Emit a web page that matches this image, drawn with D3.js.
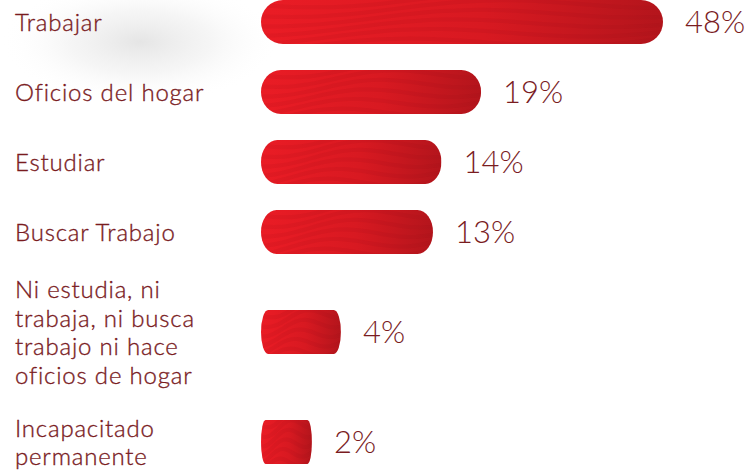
<!DOCTYPE html>
<html>
<head>
<meta charset="utf-8">
<script src="https://cdn.jsdelivr.net/npm/d3@7"></script>
<style>
  html, body { margin: 0; padding: 0; background: #fff; }
  svg { display: block; }
</style>
</head>
<body>
<div id="chart"></div>
<script>
var svgWidth = 756;
var svgHeight = 473;

// data
var categories = ["Trabajar", "Oficios del hogar", "Estudiar", "Buscar Trabajo",
  "Ni estudia, ni trabaja, ni busca trabajo ni hace oficios de hogar", "Incapacitado permanente"];
var labelLines = [
  ["Trabajar"],
  ["Oficios del hogar"],
  ["Estudiar"],
  ["Buscar Trabajo"],
  ["Ni estudia, ni", "trabaja, ni busca", "trabajo ni hace", "oficios de hogar"],
  ["Incapacitado", "permanente"]
];
var values = [48, 19, 14, 13, 4, 2];
var valueLabels = ["48%", "19%", "14%", "13%", "4%", "2%"];

var barX = 261;
var barH = 44;
var lineH = 28.5;
var textColor = "#7a1c1f";

var svg = d3.select("#chart")
  .append("svg")
    .attr("width", svgWidth)
    .attr("height", svgHeight);

var defs = svg.append("defs");

// soft grey glow behind first label
var glow = defs.append("radialGradient").attr("id", "glow");
glow.append("stop").attr("offset", "0%").attr("stop-color", "#e2e2e2").attr("stop-opacity", 0.9);
glow.append("stop").attr("offset", "50%").attr("stop-color", "#efefef").attr("stop-opacity", 0.6);
glow.append("stop").attr("offset", "100%").attr("stop-color", "#ffffff").attr("stop-opacity", 0);

var grad = defs.append("linearGradient").attr("id", "barGrad")
  .attr("x1", "0%").attr("x2", "100%").attr("y1", "0%").attr("y2", "0%");
grad.append("stop").attr("offset", "0%").attr("stop-color", "#ea1c25");
grad.append("stop").attr("offset", "55%").attr("stop-color", "#d81921");
grad.append("stop").attr("offset", "100%").attr("stop-color", "#b4151c");

svg.append("ellipse")
  .attr("cx", 140).attr("cy", 42)
  .attr("rx", 140).attr("ry", 62)
  .attr("fill", "url(#glow)");

// bar length scale (the infographic is not linear, a power scale fits it)
var xScale = d3.scalePow().exponent(0.65)
  .domain([0, 48])
  .range([0, 402]);

// rows take space according to how many lines their label has
var rowSize = labelLines.map(l => 50 + 20 * l.length);
var rowStart = d3.cumsum([0].concat(rowSize));
var yScale = d3.scaleLinear()
  .domain([0, d3.sum(rowSize)])
  .range([-13, -13 + d3.sum(rowSize)]);
var centerY = categories.map((c, i) => yScale(rowStart[i] + rowSize[i] / 2));

var rows = svg.selectAll("g.row")
  .data(categories)
  .enter()
  .append("g")
    .attr("class", "row")
    .attr("transform", (d, i) => `translate(0, ${centerY[i]})`);

// bars
rows.each(function(d, i) {
  var g = d3.select(this);
  var w = xScale(values[i]);
  var rx = Math.min(22, w * 0.09);
  defs.append("clipPath").attr("id", "clip" + i)
    .append("rect")
      .attr("x", barX).attr("y", -barH / 2)
      .attr("width", w).attr("height", barH)
      .attr("rx", rx).attr("ry", barH / 2);
  var bg = g.append("g").attr("clip-path", `url(#clip${i})`);
  bg.append("rect")
    .attr("x", barX).attr("y", -barH / 2)
    .attr("width", w).attr("height", barH)
    .attr("fill", "url(#barGrad)");
  // wavy texture
  var wave = d3.line().curve(d3.curveBasis);
  for (var k = 0; k < 7; k++) {
    var pts = d3.range(0, 21).map(function(j) {
      var x = barX + w * j / 20;
      var t = j / 20;
      return [x, -barH / 2 - 6 + k * 9 - t * 10 + Math.sin(t * Math.PI * 2.2 + k * 0.4) * 6];
    });
    bg.append("path")
      .attr("d", wave(pts))
      .attr("fill", "none")
      .attr("stroke", "#8e0f14")
      .attr("stroke-width", 4)
      .attr("stroke-opacity", 0.09);
  }
});

// category labels
rows.append("text")
  .attr("x", 15)
  .attr("fill", textColor)
  .style("font-family", "Lato, 'Open Sans', sans-serif")
  .style("font-size", "24px")
  .style("font-weight", 300)
  .style("letter-spacing", "0.8px")
  .style("stroke", textColor)
  .style("stroke-width", "0.35px")
  .selectAll("tspan")
  .data((d, i) => labelLines[i].map((t, j, arr) => ({t: t, j: j, n: arr.length})))
  .enter()
  .append("tspan")
    .attr("x", 15)
    .attr("y", d => (d.j - (d.n - 1) / 2) * lineH + 9)
    .text(d => d.t);

// value labels
rows.append("text")
  .attr("x", (d, i) => barX + xScale(values[i]) + 22)
  .attr("y", 11)
  .attr("fill", textColor)
  .style("font-family", "Lato, 'Open Sans', sans-serif")
  .style("font-size", "31px")
  .style("font-weight", 300)
  .text((d, i) => valueLabels[i]);
</script>
</body>
</html>
